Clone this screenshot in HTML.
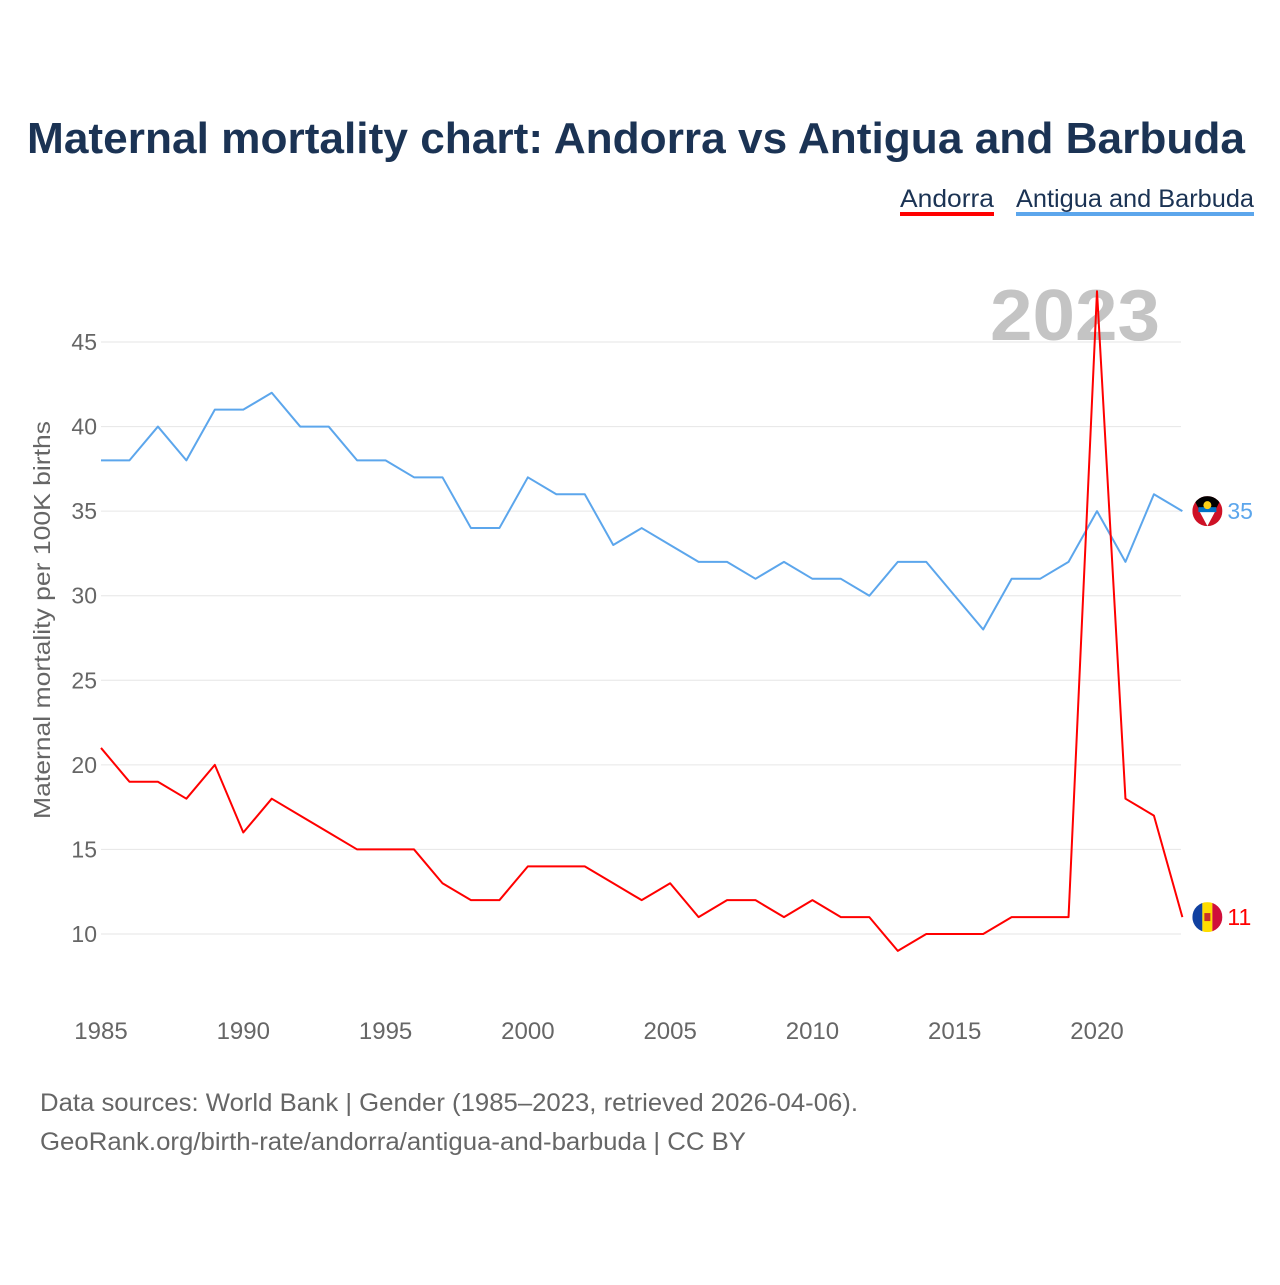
<!DOCTYPE html>
<html><head><meta charset="utf-8"><style>
body{margin:0;background:#fff;font-family:"Liberation Sans",sans-serif;}
#wrap{position:relative;width:1280px;height:1280px;}
</style></head><body>
<div id="wrap">
<svg id="chart" width="1280" height="1280">
<text x="27" y="153" textLength="1218" lengthAdjust="spacingAndGlyphs" font-size="44" font-weight="bold" fill="#1b3354">Maternal mortality chart: Andorra vs Antigua and Barbuda</text>
<g>
<text x="900" y="207" textLength="94" lengthAdjust="spacingAndGlyphs" font-size="25" fill="#1b3354">Andorra</text>
<rect x="900" y="212" width="94" height="4" fill="#ff0000"/>
<text x="1016" y="207" textLength="238" lengthAdjust="spacingAndGlyphs" font-size="25" fill="#1b3354">Antigua and Barbuda</text>
<rect x="1016" y="212" width="238" height="4" fill="#5ca6ec"/>
</g>
<text x="990" y="340" textLength="170" lengthAdjust="spacingAndGlyphs" font-size="72" font-weight="bold" fill="#c4c4c4">2023</text>
<g id="grid"></g><g id="xt"></g>
<text transform="translate(50,620) rotate(-90)" text-anchor="middle" textLength="398" lengthAdjust="spacingAndGlyphs" font-size="23" fill="#666">Maternal mortality per 100K births</text>
<g id="lines"></g>
<text x="40" y="1111" textLength="818" lengthAdjust="spacingAndGlyphs" font-size="25" fill="#666">Data sources: World Bank | Gender (1985–2023, retrieved 2026-04-06).</text>
<text x="40" y="1150" textLength="706" lengthAdjust="spacingAndGlyphs" font-size="25" fill="#666">GeoRank.org/birth-rate/andorra/antigua-and-barbuda | CC BY</text>
</svg></div>
<script>
const years=[];for(let y=1985;y<=2023;y++)years.push(y);
const andorra=[21,19,19,18,20,16,18,17,16,15,15,15,13,12,12,14,14,14,13,12,13,11,12,12,11,12,11,11,9,10,10,10,11,11,11,48,18,17,11];
const antigua=[38,38,40,38,41,41,42,40,40,38,38,37,37,34,34,37,36,36,33,34,33,32,32,31,32,31,31,30,32,32,30,28,31,31,32,35,32,36,35];
const yTicks=[10,15,20,25,30,35,40,45];
const xTicks=[1985,1990,1995,2000,2005,2010,2015,2020];
const X=y=>101+(y-1985)*(996/35);
const Y=v=>934-(v-10)*(592/35);
const NS="http://www.w3.org/2000/svg";
function mk(t,a,p){const e=document.createElementNS(NS,t);for(const k in a)e.setAttribute(k,a[k]);p.appendChild(e);return e;}
const grid=document.getElementById('grid');
yTicks.forEach(v=>{
 const l=mk('line',{x1:101,x2:1181,y1:Y(v),y2:Y(v),stroke:'#e6e6e6','stroke-width':1},grid);
 
 
 const t=mk('text',{x:97,y:Y(v)+8,'text-anchor':'end','font-size':23,fill:'#666'},grid);t.textContent=v;
 
 
});
const xt=document.getElementById('xt');
xTicks.forEach(v=>{
 const t=mk('text',{x:X(v),y:1039,'text-anchor':'middle','font-size':24,fill:'#666'},xt);t.textContent=v;
 
 
});
const lines=document.getElementById('lines');
function series(d,c,name){
 const p=mk('polyline',{points:d.map((v,i)=>X(years[i])+','+Y(v)).join(' '),fill:'none',stroke:c,'stroke-width':2,'stroke-linejoin':'round'},lines);
 
 
 const last=d[d.length-1],lx=X(years[years.length-1])+25,ly=Y(last);
 const g=mk('g',{},lines);
 
 
 if(name==='andorra'){
  mk('clipPath',{id:'ca'},g);mk('circle',{cx:lx,cy:ly,r:15},document.getElementById('ca'));
  const gg=mk('g',{'clip-path':'url(#ca)'},g);
  mk('rect',{x:lx-15,y:ly-15,width:10,height:30,fill:'#1040a0'},gg);
  mk('rect',{x:lx-5,y:ly-15,width:10,height:30,fill:'#fedd00'},gg);
  mk('rect',{x:lx+5,y:ly-15,width:10,height:30,fill:'#d00f3a'},gg);
  mk('rect',{x:lx-3,y:ly-4,width:6,height:8,fill:'#c7302a'},gg);
 }else{
  mk('clipPath',{id:'cb'},g);mk('circle',{cx:lx,cy:ly,r:15},document.getElementById('cb'));
  const gg=mk('g',{'clip-path':'url(#cb)'},g);
  mk('rect',{x:lx-15,y:ly-15,width:30,height:30,fill:'#ce1126'},gg);
  mk('polygon',{points:`${lx-15},${ly-15} ${lx+15},${ly-15} ${lx},${ly+15}`,fill:'#000'},gg);
  mk('polygon',{points:`${lx-8},${ly} ${lx+8},${ly} ${lx},${ly+15}`,fill:'#fff'},gg);
  mk('rect',{x:lx-9,y:ly-4,width:18,height:5,fill:'#0072c6'},gg);
  mk('circle',{cx:lx,cy:ly-6,r:4,fill:'#fcd116'},gg);
 }
 const t=mk('text',{x:lx+20,y:ly+8,'font-size':23,fill:c},lines);t.textContent=last;
 
 
}
series(antigua,'#5ca6ec','antigua');
series(andorra,'#ff0000','andorra');
</script>
</body></html>
